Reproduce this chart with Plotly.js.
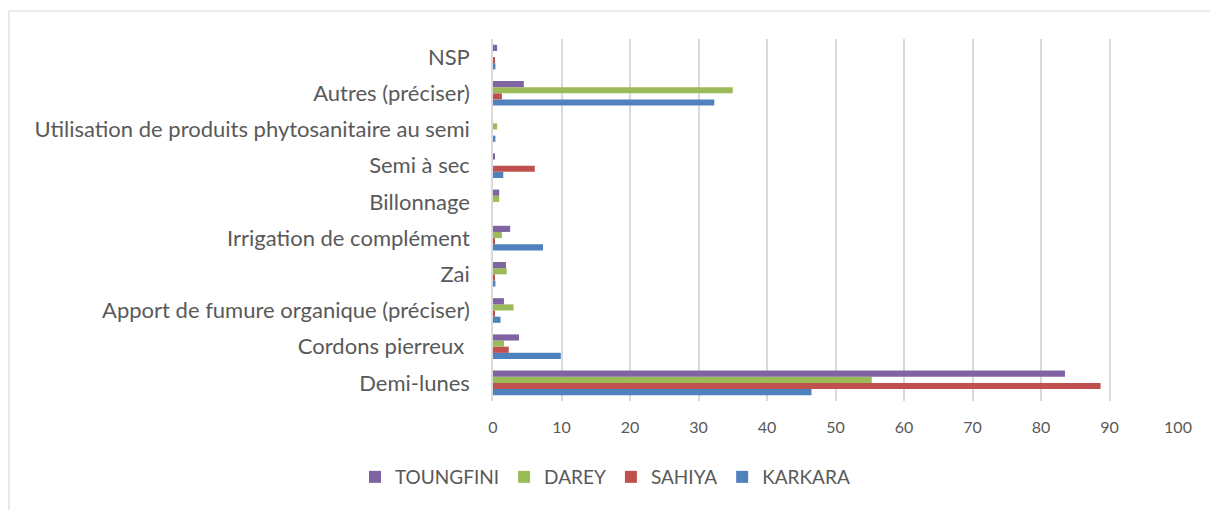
<!DOCTYPE html>
<html>
<head>
<meta charset="utf-8">
<script src="https://cdn.plot.ly/plotly-3.0.1.min.js"></script>
<style>
  html, body { margin: 0; padding: 0; background: #ffffff; }
  #chart { width: 1210px; height: 510px; }
</style>
</head>
<body>
<div id="chart"></div>
<script>
// Categories, bottom to top
const categories = [
  "Demi-lunes",
  "Cordons pierreux ",
  "Apport de fumure organique (préciser)",
  "Zai",
  "Irrigation de complément",
  "Billonnage",
  "Semi à sec",
  "Utilisation de produits phytosanitaire au semi",
  "Autres (préciser)",
  "NSP"
];

const karkara   = [46.5, 9.9, 1.1, 0.35, 7.3, 0,   1.5, 0.35, 32.3, 0.35];
const sahiya    = [88.7, 2.3, 0.3, 0.3,  0.3, 0,   6.1, 0,    1.3,  0.3];
const darey     = [55.3, 1.6, 3.0, 2.0,  1.3, 0.9, 0,   0.6,  35.0, 0];
const toungfini = [83.5, 3.8, 1.6, 1.9,  2.5, 0.9, 0.3, 0,    4.5,  0.6];

const seriesNames = ["KARKARA", "SAHIYA", "DAREY", "TOUNGFINI"];
const seriesValues = [karkara, sahiya, darey, toungfini];
const seriesColors = ["#4F81BD", "#C0504D", "#9BBB59", "#8064A2"];

const traces = seriesNames.map((name, i) => ({
  type: "bar",
  orientation: "h",
  name: name,
  y: categories,
  x: seriesValues[i],
  marker: { color: seriesColors[i], line: { width: 0 } },
  hoverinfo: "x+name"
}));

// plot area geometry (pixels)
const L = 493, R = 1178, T = 39, B = 401;
const W = R - L, H = B - T;
function px(x) { return (x - L) / W; }
function py(y) { return (B - y) / H; }

const layout = {
  width: 1210,
  height: 510,
  margin: { l: L, r: 1210 - R, t: T, b: 510 - B, pad: 0 },
  paper_bgcolor: "#ffffff",
  plot_bgcolor: "#ffffff",
  font: { family: "Lato, 'Open Sans', sans-serif", color: "#595959" },
  barmode: "group",
  bargap: 0.32,
  bargroupgap: 0,
  showlegend: true,
  legend: {
    orientation: "h",
    traceorder: "reversed",
    xref: "container",
    yref: "container",
    x: 0.5,
    xanchor: "center",
    y: 1 - 477 / 510,
    yanchor: "middle",
    font: { size: 19, color: "#595959" },
    itemclick: false
  },
  xaxis: {
    range: [0, 100],
    dtick: 10,
    tick0: 0,
    showgrid: true,
    gridcolor: "#d9d9d9",
    gridwidth: 1.5,
    zeroline: false,
    showline: false,
    ticks: "",
    tickfont: { size: 16, color: "#595959" },
    ticklabelstandoff: 15,
    fixedrange: true
  },
  yaxis: {
    type: "category",
    showgrid: false,
    zeroline: false,
    showline: true,
    linecolor: "#d9d9d9",
    linewidth: 1.5,
    ticks: "",
    tickfont: { size: 22, color: "#595959" },
    ticklabelstandoff: 17,
    automargin: false,
    fixedrange: true
  },
  shapes: [
    {
      type: "rect",
      xref: "paper", yref: "paper",
      x0: px(9), x1: px(1220),
      y0: py(520), y1: py(11),
      line: { color: "#d9d9d9", width: 1.2 },
      fillcolor: "rgba(0,0,0,0)",
      layer: "below"
    }
  ]
};

Plotly.newPlot("chart", traces, layout, { displayModeBar: false, staticPlot: false });
</script>
</body>
</html>
